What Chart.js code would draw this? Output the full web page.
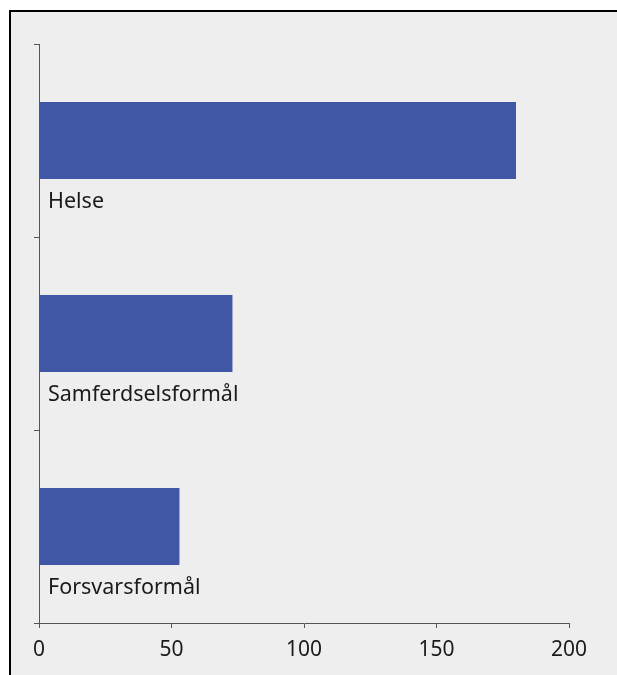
<!DOCTYPE html>
<html>
<head>
<meta charset="utf-8">
<script src="https://cdn.jsdelivr.net/npm/chart.js@4/dist/chart.umd.min.js"></script>
<style>
  html, body { margin: 0; padding: 0; background: #ffffff; overflow: hidden; }
  #frame {
    position: absolute; left: 9px; top: 10px;
    width: 620px; height: 665px;
    border-left: 2px solid #000; border-top: 2px solid #000;
    background: #eeeeee;
  }
  #chart { display: block; }
</style>
</head>
<body>
<div id="frame"><canvas id="chart" width="606" height="663"></canvas></div>
<script>
// categories and values
const categories = ["Helse", "Samferdselsformål", "Forsvarsformål"];
const values = [180, 73, 53];
const xTicks = [0, 50, 100, 150, 200];

const barColor = "#3f57a5";
const axisColor = "#555555";
const fontFamily = "'Noto Sans', 'Open Sans', sans-serif";

// write each category name under its bar, inside the plot
const barLabels = {
    id: "barLabels",
    afterDatasetsDraw(chart) {
        const ctx = chart.ctx;
        const meta = chart.getDatasetMeta(0);
        ctx.save();
        ctx.font = "21.5px " + fontFamily;
        ctx.fillStyle = "#1a1a1a";
        ctx.textAlign = "left";
        ctx.textBaseline = "alphabetic";
        meta.data.forEach((bar, i) => {
            const { y, height } = bar.getProps(["y", "height"], true);
            ctx.fillText(categories[i], chart.chartArea.left + 9, y + height / 2 + 29);
        });
        ctx.restore();
    }
};

new Chart(document.getElementById("chart"), {
    type: "bar",
    data: {
        labels: categories,
        datasets: [{
            data: values,
            backgroundColor: barColor,
            borderWidth: 0,
            categoryPercentage: 1,
            barPercentage: 0.4
        }]
    },
    options: {
        indexAxis: "y",
        responsive: false,
        animation: false,
        layout: { padding: { left: 23, top: 32, right: 48, bottom: 0 } },
        plugins: {
            legend: { display: false },
            tooltip: { enabled: false }
        },
        scales: {
            x: {
                min: 0,
                max: 200,
                afterBuildTicks: (scale) => { scale.ticks = xTicks.map(v => ({ value: v })); },
                afterFit: (scale) => { scale.height = 52; },
                border: { display: true, color: axisColor, width: 1 },
                grid: { drawOnChartArea: false, drawTicks: true, tickLength: 5, color: axisColor },
                ticks: {
                    color: "#1a1a1a",
                    font: { family: fontFamily, size: 21 },
                    padding: 9,
                    maxRotation: 0
                }
            },
            y: {
                afterFit: (scale) => { scale.width = 5; },
                border: { display: true, color: axisColor, width: 1 },
                grid: { offset: true, drawOnChartArea: false, drawTicks: true, tickLength: 5, color: axisColor },
                ticks: { display: false }
            }
        }
    },
    plugins: [barLabels]
});
</script>
</body>
</html>
